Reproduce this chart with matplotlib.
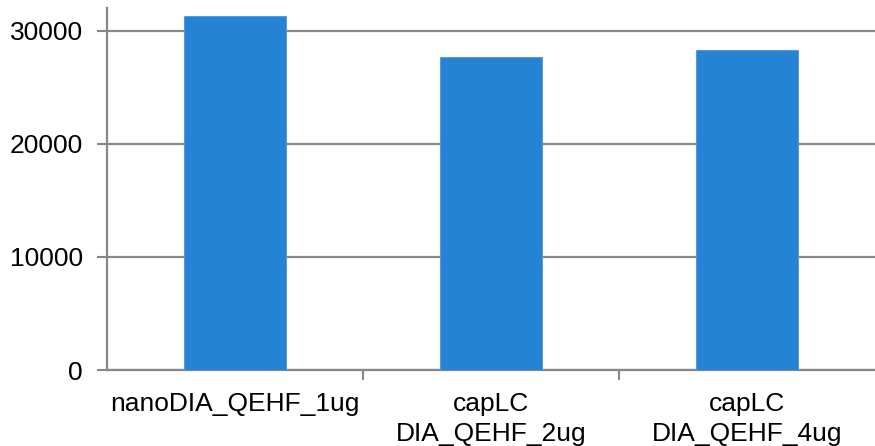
import matplotlib
matplotlib.use("Agg")
import matplotlib.pyplot as plt

categories = ["nanoDIA_QEHF_1ug", "capLC\nDIA_QEHF_2ug", "capLC\nDIA_QEHF_4ug"]
values = [31290, 27700, 28290]
yticks = [0, 10000, 20000, 30000]

plt.rcParams['font.family'] = ['Liberation Sans', 'DejaVu Sans']
fig = plt.figure(figsize=(8.75, 4.46), dpi=100)
ax = fig.add_axes([107/875, 1-370/446, 768/875, 362/446])

x = list(range(len(categories)))
ax.bar(x, values, width=0.4, color="#2683D4", edgecolor="#4a98dc", linewidth=0.6, zorder=3)
ax.set_xlim(-0.5, len(categories) - 0.5)
ax.set_ylim(0, 32000)
ax.set_yticks(yticks)
ax.set_yticklabels([str(v) for v in yticks], fontsize=19)
ax.yaxis.grid(True, color="#888888", linewidth=1.6, zorder=0)
ax.set_axisbelow(True)

ax.set_xticks([0.5, 1.5])
ax.set_xticklabels([])
ax.set_xticks(x, minor=True)
ax.set_xticklabels(categories, minor=True, fontsize=19, linespacing=1.3)
ax.tick_params(axis='x', which='minor', length=0, pad=16)
ax.tick_params(axis='x', which='major', length=7, width=1.5, color="#888888")
ax.tick_params(axis='y', length=7, width=1.5, color="#888888", pad=10.5)

for s in ["top", "right"]:
    ax.spines[s].set_visible(False)
for s in ["left", "bottom"]:
    ax.spines[s].set_color("#888888")
    ax.spines[s].set_linewidth(1.6)

fig.savefig("out.png", dpi=100)
